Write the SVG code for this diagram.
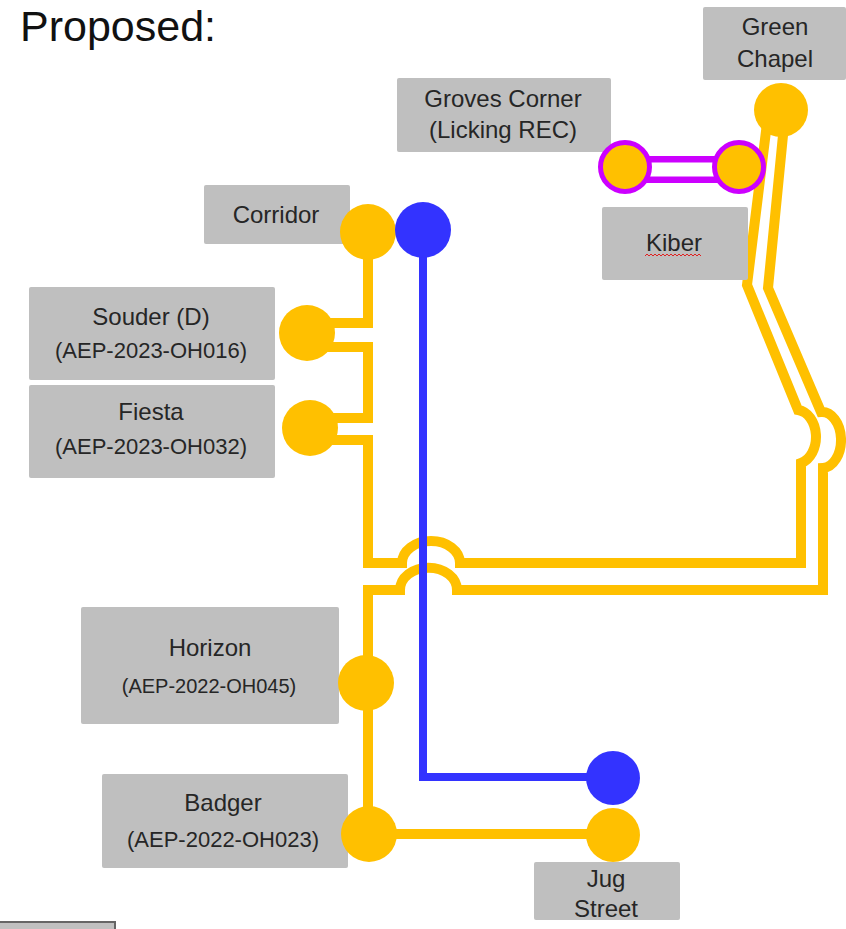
<svg xmlns="http://www.w3.org/2000/svg" width="846" height="929" viewBox="0 0 846 929">
<style>
.box{fill:#BFBFBF;}
.t{font-family:"Liberation Sans",Arial,sans-serif;font-size:24px;fill:#262626;text-anchor:middle;}
.s{font-size:22px;}
.or{fill:none;stroke:#FFC000;stroke-width:10;stroke-linejoin:miter;}
.bl{fill:none;stroke:#3333FF;stroke-width:8;}
.oc{fill:#FFC000;}
.bc{fill:#3333FF;}
.pc{fill:#FFC000;stroke:#CC00FF;stroke-width:5;}
</style>
<rect width="846" height="929" fill="#fff"/>
<text x="20" y="41" style="font-family:'Liberation Sans',Arial,sans-serif;font-size:43px;fill:#111;">Proposed:</text>

<g id="connectors">
  <path class="or" d="M368,232 V323 H307"/>
  <path class="or" d="M307,347 H368 V418 H310"/>
  <path class="or" d="M310,440 H368 V563 H402 A29 22 0 0 1 460,563 H801 V463 A20 27 0 0 0 798,410 L747,285 L768,115"/>
  <path class="or" d="M785,115 L768,288 L821,412 A19 28 0 0 1 823,468 V590 H457 A28 22 0 0 0 400,590 H368 V834"/>
  <path class="or" d="M369,834 H613"/>
  <path class="bl" d="M423,230 V777 H613"/>
  <path fill="none" stroke="#CC00FF" stroke-width="27" d="M625,169.5 H739"/>
  <path fill="none" stroke="#fff" stroke-width="14" d="M625,169.5 H739"/>
</g>

<g id="green-chapel">
  <rect class="box" x="703" y="7" width="143" height="73" rx="2"/>
  <text class="t" x="775" y="35">Green</text>
  <text class="t" x="775" y="67">Chapel</text>
  <circle class="oc" cx="781" cy="110" r="27"/>
</g>
<g id="groves-corner">
  <rect class="box" x="397" y="78" width="214" height="74" rx="2"/>
  <text class="t" x="503" y="107">Groves Corner</text>
  <text class="t" x="503" y="138">(Licking REC)</text>
  <circle class="pc" cx="625" cy="167" r="24.5"/>
  <circle class="pc" cx="739" cy="167" r="24.5"/>
</g>
<g id="kiber">
  <rect class="box" x="602" y="207" width="146" height="73" rx="2"/>
  <text class="t" x="674" y="251">Kiber</text>
  <path d="M645,256 l2,-2 l2,2 l2,-2 l2,2 l2,-2 l2,2 l2,-2 l2,2 l2,-2 l2,2 l2,-2 l2,2 l2,-2 l2,2 l2,-2 l2,2 l2,-2 l2,2 l2,-2 l2,2 l2,-2 l2,2 l2,-2 l2,2 l2,-2 l2,2 l2,-2 l2,2" fill="none" stroke="#E02020" stroke-width="1"/>
</g>
<g id="corridor">
  <rect class="box" x="204" y="185" width="146" height="59" rx="2"/>
  <text class="t" x="276" y="223">Corridor</text>
  <circle class="oc" cx="368" cy="232" r="28"/>
  <circle class="bc" cx="423" cy="230" r="28"/>
</g>
<g id="souder">
  <rect class="box" x="29" y="287" width="246" height="93" rx="2"/>
  <text class="t" x="151" y="325">Souder (D)</text>
  <text class="t s" x="151" y="358">(AEP-2023-OH016)</text>
  <circle class="oc" cx="307" cy="333" r="28"/>
</g>
<g id="fiesta">
  <rect class="box" x="29" y="385" width="246" height="93" rx="2"/>
  <text class="t" x="151" y="420">Fiesta</text>
  <text class="t s" x="151" y="454">(AEP-2023-OH032)</text>
  <circle class="oc" cx="310" cy="428" r="28"/>
</g>
<g id="horizon">
  <rect class="box" x="81" y="607" width="258" height="117" rx="2"/>
  <text class="t" x="210" y="656">Horizon</text>
  <text class="t" x="209" y="693" style="font-size:20px">(AEP-2022-OH045)</text>
  <circle class="oc" cx="366" cy="683" r="28"/>
</g>
<g id="badger">
  <rect class="box" x="102" y="774" width="246" height="94" rx="2"/>
  <text class="t" x="223" y="811">Badger</text>
  <text class="t s" x="223" y="847">(AEP-2022-OH023)</text>
  <circle class="oc" cx="369" cy="834" r="28"/>
</g>
<g id="jug-street">
  <rect class="box" x="534" y="862" width="146" height="58" rx="2"/>
  <text class="t" x="606" y="887">Jug</text>
  <text class="t" x="606" y="917">Street</text>
  <circle class="oc" cx="613" cy="835" r="27"/>
</g>
<g id="blue-end">
  <circle class="bc" cx="613" cy="778" r="27"/>
</g>
<rect x="-2" y="922" width="117" height="20" fill="#C0C0C0" stroke="#666" stroke-width="2"/>
</svg>
